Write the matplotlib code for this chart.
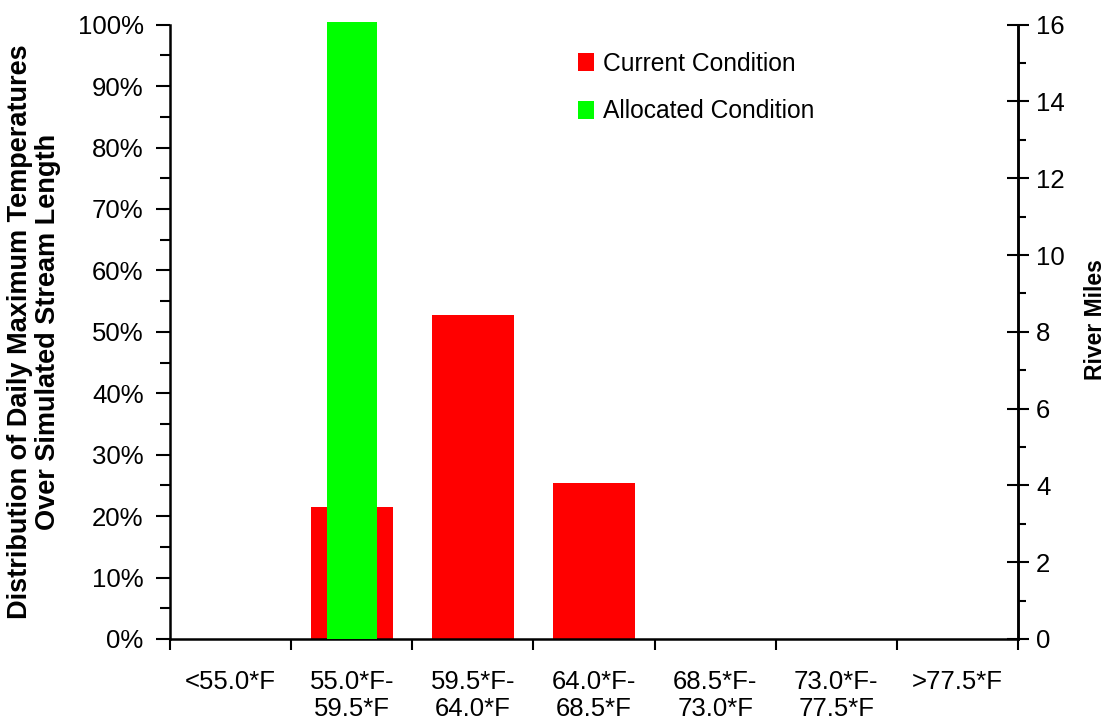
import matplotlib
matplotlib.use("Agg")
import matplotlib.pyplot as plt
import numpy as np

plt.rcParams['font.family'] = ['Liberation Sans', 'DejaVu Sans']

categories = ["<55.0*F", "55.0*F-\n59.5*F", "59.5*F-\n64.0*F", "64.0*F-\n68.5*F",
              "68.5*F-\n73.0*F", "73.0*F-\n77.5*F", ">77.5*F"]
current_pct = [0.0, 21.5, 52.7, 25.4, 0.0, 0.0, 0.0]
allocated_pct = [0.0, 100.5, 0.0, 0.0, 0.0, 0.0, 0.0]
left_ticks = list(range(0, 101, 10))
right_ticks = list(range(0, 17, 2))

RED = "#ff0000"
GREEN = "#00ff00"

fig = plt.figure(figsize=(11.05, 7.23), dpi=100)
ax = fig.add_axes([170 / 1105, 84 / 723, 848 / 1105, 614.3 / 723])

x = np.arange(len(categories))
ax.bar(x, current_pct, width=0.68, color=RED, label="Current Condition", zorder=2)
ax.bar(x, allocated_pct, width=0.41, color=GREEN, label="Allocated Condition",
       zorder=3, clip_on=False)

ax.set_xlim(-0.5, len(categories) - 0.5)
ax.set_ylim(0, 100)

# category boundaries carry the tick marks, centres carry the labels
ax.set_xticks(np.arange(-0.5, len(categories), 1.0))
ax.set_xticklabels([])
ax.set_xticks(x, minor=True)
ax.set_xticklabels(categories, minor=True, fontsize=18.5, linespacing=1.2)
ax.tick_params(axis='x', which='major', direction='out', length=8, width=1.5)
ax.tick_params(axis='x', which='minor', length=0, pad=22)

ax.set_yticks(left_ticks)
ax.set_yticklabels([f"{v}%" for v in left_ticks], fontsize=18.5)
ax.set_yticks(np.arange(5, 100, 10), minor=True)
ax.tick_params(axis='y', which='major', direction='out', length=10, width=1.5, pad=9)
ax.tick_params(axis='y', which='minor', direction='out', length=7, width=1.5)

for side in ('left', 'bottom', 'right'):
    ax.spines[side].set_linewidth(1.8)
ax.spines['top'].set_visible(False)

ax.set_ylabel("Distribution of Daily Maximum Temperatures\nOver Simulated Stream Length",
              fontsize=19.5, fontweight='bold', labelpad=12, linespacing=1.1)

ax2 = ax.twinx()
ax2.set_ylim(0, 16)
ax2.set_yticks(right_ticks)
ax2.set_yticklabels([str(v) for v in right_ticks], fontsize=18.5)
ax2.set_yticks(np.arange(1, 16, 2), minor=True)
ax2.tick_params(axis='y', which='major', direction='inout', length=16, width=1.5, pad=5)
ax2.tick_params(axis='y', which='minor', direction='out', length=6, width=1.5)
for side in ('left', 'bottom', 'top'):
    ax2.spines[side].set_visible(False)
ax2.spines['right'].set_linewidth(1.8)
ax2.set_ylabel("River Miles", fontsize=16.5, fontweight='bold')
ax2.yaxis.set_label_coords(1.078, 0.52)

ax.legend(loc='upper left', bbox_to_anchor=(0.47, 0.972), frameon=False,
          fontsize=17.7, handlelength=0.65, handleheight=0.75, handletextpad=0.35,
          labelspacing=0.95, borderaxespad=0)

fig.savefig("out.png", dpi=100)
